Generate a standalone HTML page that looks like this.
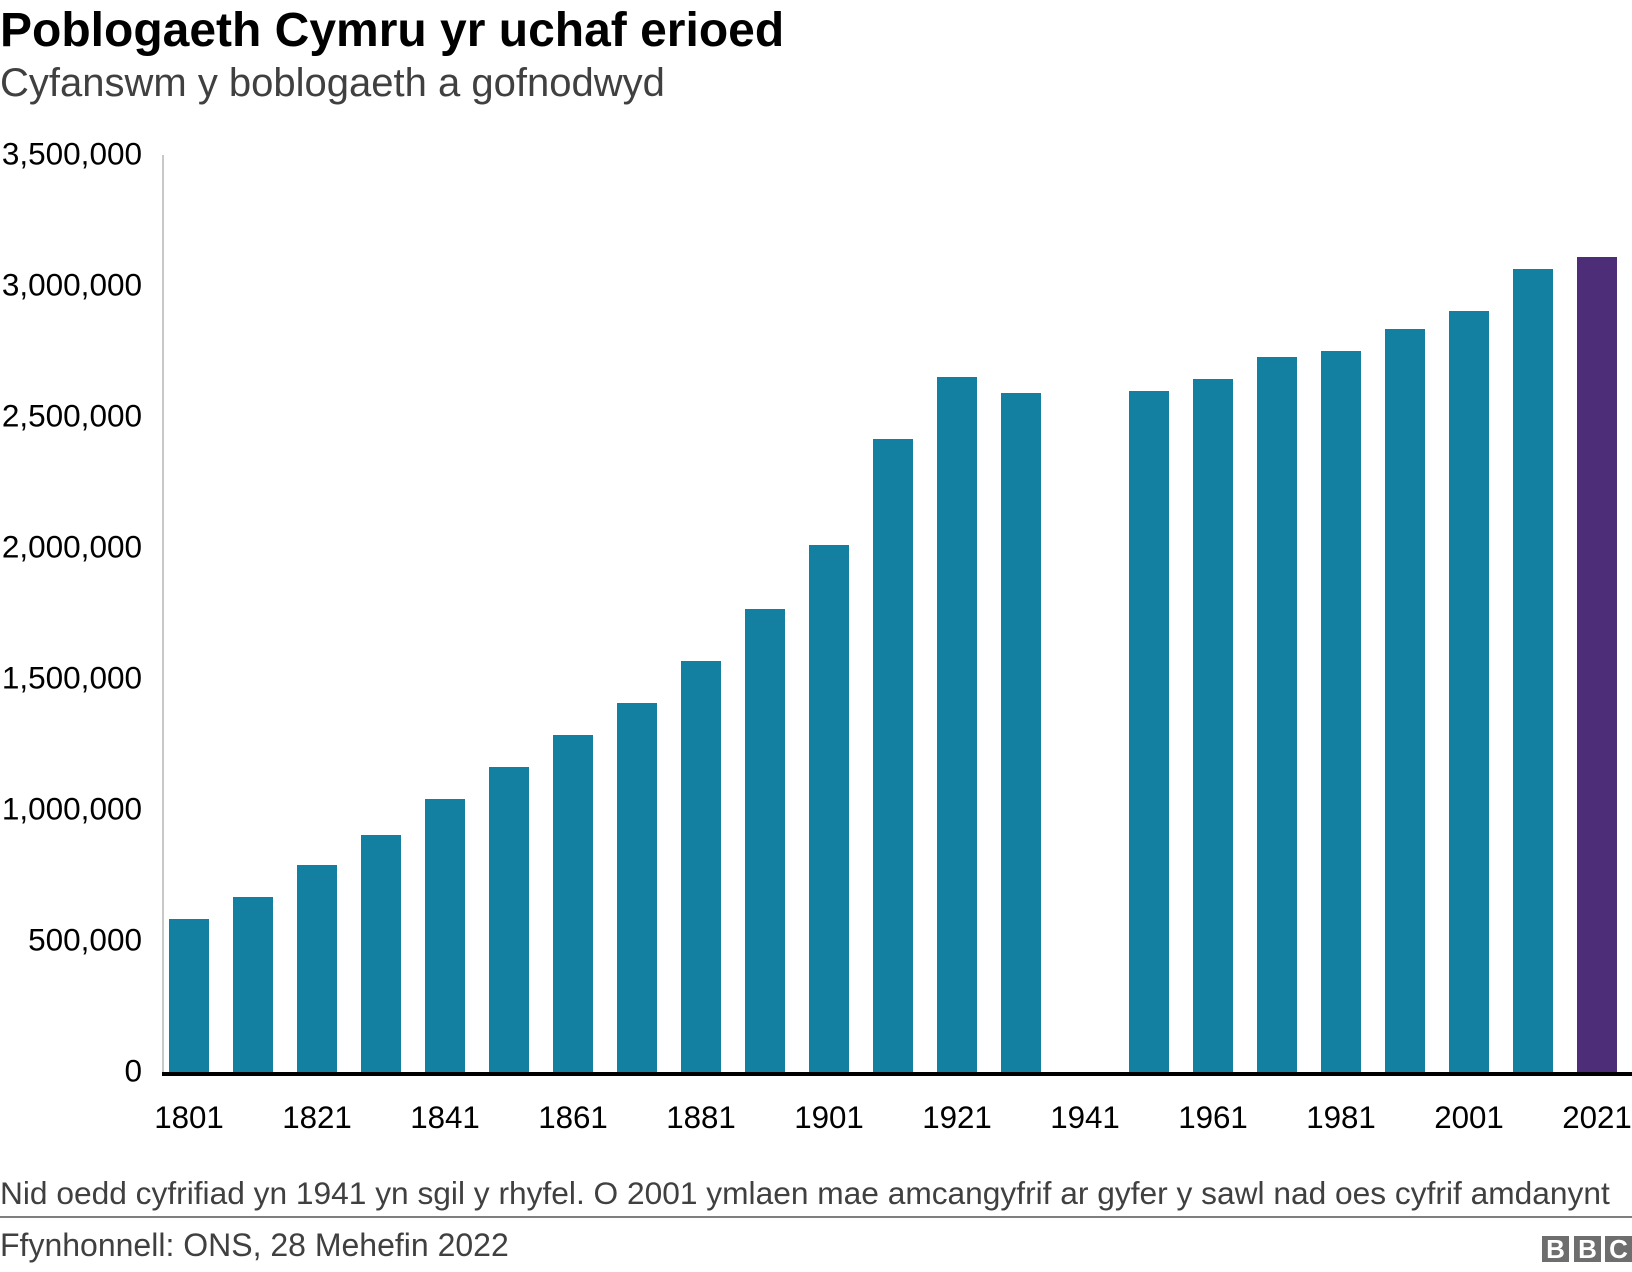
<!DOCTYPE html>
<html lang="cy">
<head>
<meta charset="utf-8">
<title>Poblogaeth Cymru yr uchaf erioed</title>
<style>
html,body{margin:0;padding:0;background:#fff;}
svg{display:block;font-family:"Liberation Sans",Arial,sans-serif;}
</style>
</head>
<body>
<svg id="chart" width="1632" height="1272" viewBox="0 0 1632 1272" xmlns="http://www.w3.org/2000/svg">
  <text x="0" y="46" font-size="48" font-weight="700" fill="#000">Poblogaeth Cymru yr uchaf erioed</text>
  <text x="0" y="96" font-size="40" fill="#404040">Cyfanswm y boblogaeth a gofnodwyd</text>
  <g id="y-axis"></g>
  <g id="bars" shape-rendering="crispEdges"></g>
  <g id="x-axis"></g>
  <text x="0" y="1204" font-size="31.7" fill="#404040">Nid oedd cyfrifiad yn 1941 yn sgil y rhyfel. O 2001 ymlaen mae amcangyfrif ar gyfer y sawl nad oes cyfrif amdanynt</text>
  <rect x="0" y="1216" width="1632" height="2" fill="#7f7f7f"></rect>
  <text x="0" y="1256" font-size="32" fill="#404040">Ffynhonnell: ONS, 28 Mehefin 2022</text>
  <g font-size="26" font-weight="700" fill="#fff" text-anchor="middle">
    <rect x="1542" y="1236" width="27" height="26" fill="#6e6e6e"></rect>
    <rect x="1574" y="1236" width="27" height="26" fill="#6e6e6e"></rect>
    <rect x="1605" y="1236" width="27" height="26" fill="#6e6e6e"></rect>
    <text x="1555.5" y="1258">B</text>
    <text x="1587.5" y="1258">B</text>
    <text x="1618.5" y="1258">C</text>
  </g>
</svg>
<script>
var years = [1801,1811,1821,1831,1841,1851,1861,1871,1881,1891,1901,1911,1921,1931,1941,1951,1961,1971,1981,1991,2001,2011,2021];
var population = [584000,668000,790000,905000,1042000,1164000,1286000,1408000,1569000,1767000,2011000,2416000,2653000,2592000,null,2599000,2645000,2729000,2752000,2836000,2905000,3065000,3111000];
var yTicks = [0,500000,1000000,1500000,2000000,2500000,3000000,3500000];
var highlightYear = 2021;

var svgNS = 'http://www.w3.org/2000/svg';
var plotLeft = 169, slotStep = 64, barWidth = 40;
var baseY = 1072, topY = 155, maxValue = 3500000;

function xPos(i) { return plotLeft + i * slotStep; }
function yPos(v) { return baseY - (v / maxValue) * (baseY - topY); }
function make(tag, attrs, parent) {
  var el = document.createElementNS(svgNS, tag);
  for (var k in attrs) { el.setAttribute(k, attrs[k]); }
  parent.appendChild(el);
  return el;
}

var yAxis = document.getElementById('y-axis');
var barsG = document.getElementById('bars');
var xAxis = document.getElementById('x-axis');

var yLine = make('rect', {x: 162, y: topY, width: 2, height: baseY - topY}, yAxis);
yLine.setAttribute('fill', '#c8c8c8');



yTicks.forEach(function (t) {
  var label = make('text', {x: 142, y: yPos(t) + 9.5, 'font-size': 31.5, 'text-anchor': 'end', fill: '#000'}, yAxis);
  label.textContent = t.toLocaleString('en-US');
  
  
});

years.forEach(function (yr, i) {
  var v = population[i];
  if (v !== null) {
    var bar = make('rect', {x: xPos(i), y: yPos(v), width: barWidth, height: baseY - yPos(v), fill: yr === highlightYear ? '#4e2d78' : '#1380a1'}, barsG);
    
    
  }
  if (i % 2 === 0) {
    var tick = make('text', {x: xPos(i) + barWidth / 2, y: 1128, 'font-size': 31.3, 'text-anchor': 'middle', fill: '#000'}, xAxis);
    tick.textContent = yr;
    
    
  }
});

var baseline = make('rect', {x: 162, y: baseY, width: 1470, height: 4, fill: '#000'}, xAxis);


</script>
</body>
</html>
